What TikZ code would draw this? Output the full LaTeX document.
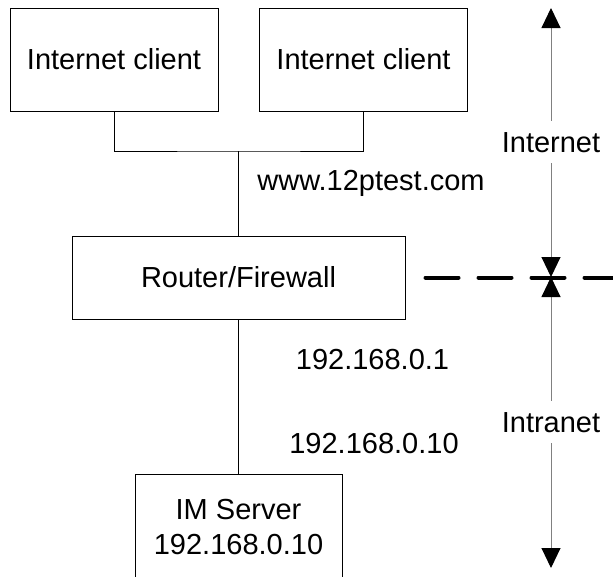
\documentclass[tikz,border=0pt]{standalone}
\usepackage{fontspec}
\setmainfont{Liberation Sans}
\usepackage{tikz}
\usetikzlibrary{arrows.meta}
\usetikzlibrary{positioning}
\definecolor{mgrey}{rgb}{0.5, 0.5, 0.5}
\tikzset{box/.style = {draw, line width = 1pt, inner sep = 0pt,
                       font = \fontsize{29}{35}\selectfont},
         lbl/.style = {inner sep = 0pt, anchor = base,
                       font = \fontsize{29}{35}\selectfont},
         zone/.style = {draw = mgrey, line width = 1pt,
                        {Triangle[width = 19pt, length = 20pt, black]}-{Triangle[width = 19pt, length = 20pt, black]}}}

\begin{document}
\begin{tikzpicture}[x = 1pt, y = -1pt]
      \useasboundingbox (0, 0) rectangle (613, 576);
      \clip (0, 0) rectangle (613, 576);

      \node [box, minimum width = 208pt, minimum height = 103pt] (c1) at (114, 59.5) {Internet client};
      \node [box, minimum width = 208pt, minimum height = 103pt] (c2) at (363.5, 59.5) {Internet client};
      \node [box, minimum width = 333pt, minimum height = 83pt] (router) at (238.5, 277.5) {Router/Firewall};
      \node [box, align = center, minimum width = 207pt, minimum height = 106pt] (server) at (238.5, 527) {IM Server\\192.168.0.10};

      \coordinate (hub) at (238.5, 151);
      \draw (c1.south) |- (hub) -| (c2.south);
      \draw (hub) -- (router.north);
      \draw (router.south) -- (server.north);

      \node [lbl] (web) at (371, 190) {www.12ptest.com};
      \node [lbl] (gw) at (372.5, 369) {192.168.0.1};
      \node [lbl] (srvip) at (374, 453) {192.168.0.10};

      \coordinate (cut) at (551, 277);
      \coordinate (top) at (551, 8);
      \coordinate (bottom) at (551, 568);
      \draw [zone] (cut) -- (top);
      \draw [zone] (cut) -- (bottom);
      \node [lbl, fill = white, inner ysep = 11pt] (inet) at (551, 152) {Internet};
      \node [lbl, fill = white, inner ysep = 11pt] (intra) at (551, 432) {Intranet};

      \draw [line width = 4pt, line cap = round, dash pattern = on 33pt off 20pt]
            ([xshift = 20pt] router.east) -- ++(220, 0);
    \end{tikzpicture}
\end{document}
